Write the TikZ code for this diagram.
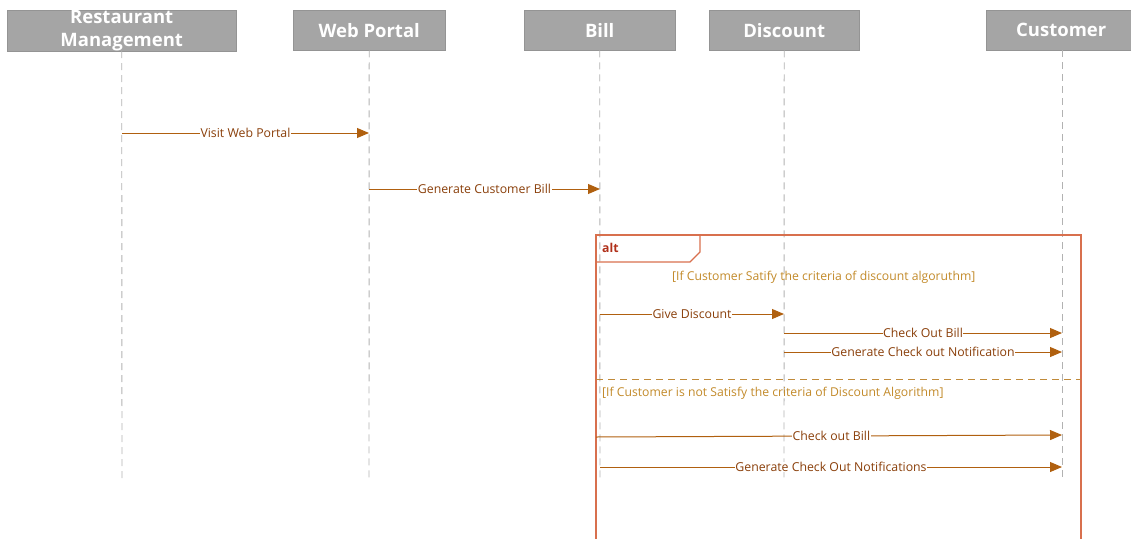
\documentclass[tikz,border=0pt]{standalone}
\usepackage{fontspec}
\setmainfont{Open Sans}
\usetikzlibrary{arrows.meta}
\definecolor{hdr}{HTML}{A5A5A5}
\definecolor{msg}{HTML}{B0600F}
\definecolor{msgtxt}{HTML}{8A3F0A}
\definecolor{frm}{HTML}{D8704E}
\definecolor{guard}{HTML}{C28A2A}
\definecolor{alttxt}{HTML}{B0301A}
\definecolor{sep}{HTML}{C08A3A}
\tikzset{
  head/.style={fill=hdr, draw=hdr!90!black, line width=0.4pt, text=white, font=\fontsize{18.5}{23}\selectfont\bfseries, align=center, inner sep=0pt, anchor=north west},
  life/.style={draw=gray!60, dash pattern=on 7pt off 5pt, line width=0.9pt},
  call/.style={draw=msg, line width=1pt, -{Triangle[length=12pt,width=10pt]}},
  lbl/.style={fill=white, text=msgtxt, font=\fontsize{12.3}{13}\selectfont, inner sep=0.5pt},
  grd/.style={text=guard, font=\fontsize{12.2}{13}\selectfont, inner sep=0pt, anchor=west},
  frame/.style={draw=frm, line width=1.1pt},
}
\begin{document}
\begin{tikzpicture}[x=1pt,y=-1pt]
\useasboundingbox (0,0) rectangle (1131,538);
% headers
\node[head, minimum width=229pt, minimum height=40pt] (rm) at (7,10) {Restaurant\\Management};
\node[head, minimum width=152pt, minimum height=40pt] (wp) at (293,10) {Web Portal};
\node[head, minimum width=151pt, minimum height=40pt] (bl) at (524,10) {Bill};
\node[head, minimum width=150pt, minimum height=40pt] (dc) at (709,10) {Discount};
\node[head, minimum width=150pt, minimum height=40pt] (cu) at (986,10) {Customer};
% lifeline ends
\coordinate (rmE) at (122,480);
\coordinate (wpE) at (369,480);
\coordinate (blE) at (600,480);
\coordinate (dcE) at (784,480);
\coordinate (cuE) at (1062,480);
\draw[life] (rm.south) ++(0,0) -- (rmE);
\draw[life] (wp.south) -- (wpE);
\draw[life] (bl.south) -- (blE);
\draw[life] (dc.south) -- (dcE);
\draw[life] (1062,50) -- (cuE);
% message points
\coordinate (m1a) at (122,133); \coordinate (m1b) at (369,133);
\coordinate (m2a) at (369,189); \coordinate (m2b) at (600,189);
\coordinate (m3a) at (600,314); \coordinate (m3b) at (784,314);
\coordinate (m4a) at (784,333); \coordinate (m4b) at (1062,333);
\coordinate (m5a) at (784,352); \coordinate (m5b) at (1062,352);
\coordinate (m6a) at (596,437); \coordinate (m6b) at (1062,435);
\coordinate (m7a) at (600,467); \coordinate (m7b) at (1062,467);
% alt frame
\coordinate (fa) at (596,235); \coordinate (fb) at (1081,540);
\draw[frame] (596,540) -- (fa) -- (1081,235) -- (fb);
\draw[frame] (596,262) -- (690,262) -- (700,252) -- (700,235);
\node[text=alttxt, font=\fontsize{12.2}{13}\selectfont\bfseries, anchor=west, inner sep=0pt] (alt) at (602,248) {alt};
\node[grd] (g1) at (672,277) {[If Customer Satify the criteria of discount algoruthm]};
\coordinate (s1) at (596,379); \coordinate (s2) at (1081,379);
\draw[draw=sep, line width=1pt, dash pattern=on 7pt off 5pt] (s1) -- (s2);
\node[grd] (g2) at (602,393) {[If Customer is not Satisfy the criteria of Discount Algorithm]};
% messages
\draw[call] (m1a) -- node[lbl] {Visit Web Portal} (m1b);
\draw[call] (m2a) -- node[lbl] {Generate Customer Bill} (m2b);
\draw[call] (m3a) -- node[lbl] {Give Discount} (m3b);
\draw[call] (m4a) -- node[lbl] {Check Out Bill} (m4b);
\draw[call] (m5a) -- node[lbl] {Generate Check out Notification} (m5b);
\draw[call] (m6a) -- node[lbl, pos=0.505] {Check out Bill} (m6b);
\draw[call] (m7a) -- node[lbl] {Generate Check Out Notifications} (m7b);
\end{tikzpicture}
\end{document}
